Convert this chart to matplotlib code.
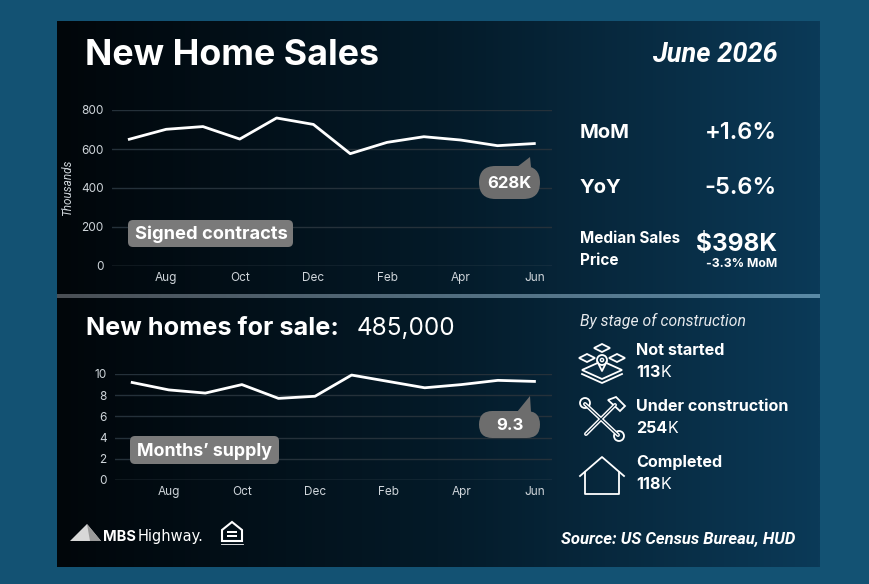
import numpy as np
import matplotlib
matplotlib.use("Agg")
import matplotlib.pyplot as plt
from matplotlib.patches import FancyBboxPatch, Polygon, Circle, Rectangle
from matplotlib.colors import LinearSegmentedColormap

# ---------------- data ----------------
months = ["Jul", "Aug", "Sep", "Oct", "Nov", "Dec", "Jan", "Feb", "Mar", "Apr", "May", "Jun"]
tick_months = ["Aug", "Oct", "Dec", "Feb", "Apr", "Jun"]
signed_contracts = [650, 701, 715, 651, 759, 726, 576, 634, 663, 646, 617, 628]   # thousands
months_supply = [9.2, 8.5, 8.2, 9.0, 7.7, 7.9, 9.9, 9.3, 8.7, 9.0, 9.4, 9.3]
sales_yticks = [0, 200, 400, 600, 800]
supply_yticks = [0, 2, 4, 6, 8, 10]
mom_change = "+1.6%"
yoy_change = "-5.6%"
median_price = "$398K"
median_price_mom = "-3.3% MoM"
homes_for_sale = "485,000"
stage_labels = ["Not started", "Under construction", "Completed"]
stage_values = [113, 254, 118]

W, H = 870, 584
plt.rcParams['font.family'] = ['Inter', 'DejaVu Sans']
fig = plt.figure(figsize=(W / 100, H / 100), dpi=100, facecolor="#135273")

def fr(x0, y0, x1, y1):
    return [x0 / W, 1 - y1 / H, (x1 - x0) / W, (y1 - y0) / H]

# background panel
bg = fig.add_axes([0, 0, 1, 1], zorder=0)
bg.set_xlim(0, W); bg.set_ylim(H, 0); bg.axis("off")
cmap = LinearSegmentedColormap.from_list("g", ["#01060a", "#041a28", "#0b3a58"])
grad = np.tile(np.linspace(0, 1, 256), (2, 1))
bg.imshow(grad, cmap=cmap, extent=(57, 820, 567, 21), aspect="auto", zorder=0)
# divider line
dcmap = LinearSegmentedColormap.from_list("d", ["#4a4f55", "#5b8aa6"])
bg.imshow(grad, cmap=dcmap, extent=(57, 820, 298, 294), aspect="auto", zorder=1)
bg.set_xlim(0, W); bg.set_ylim(H, 0)

tick_col = "#cfd5da"
grid_col = "#25313a"

def style_chart(ax, yticks, ylabels):
    ax.set_facecolor("none")
    for s in ax.spines.values():
        s.set_visible(False)
    ax.set_yticks(yticks)
    ax.set_yticklabels(ylabels)
    ax.tick_params(axis="both", length=0, colors=tick_col, labelsize=8.5)
    ax.tick_params(axis="y", pad=6)
    ax.tick_params(axis="x", pad=4)
    ax.set_xticks([months.index(m) for m in tick_months])
    ax.set_xticklabels(tick_months)
    for i, t in enumerate(yticks):
        ax.axhline(t, color="#4a565f" if i == 0 else grid_col, lw=1, zorder=0)
    ax.set_xlim(-0.47, len(months) - 0.52)

# top chart
ax1 = fig.add_axes(fr(112, 110, 552, 266), zorder=1)
ax1.plot(range(len(months)), signed_contracts, color="white", lw=2, clip_on=False, zorder=3)
ax1.set_ylim(0, 800)
style_chart(ax1, sales_yticks, [str(v) for v in sales_yticks])
ax1.set_ylabel("Thousands", color=tick_col, fontsize=8.5, style="italic",
               family=["Roboto", "DejaVu Sans"], labelpad=5)

# bottom chart
ax2 = fig.add_axes(fr(115, 374, 552, 480), zorder=1)
ax2.plot(range(len(months)), months_supply, color="white", lw=2, clip_on=False, zorder=3)
ax2.set_ylim(0, 10)
style_chart(ax2, supply_yticks, [str(v) for v in supply_yticks])

# foreground overlay
fg = fig.add_axes([0, 0, 1, 1], zorder=3)
fg.set_xlim(0, W); fg.set_ylim(H, 0); fg.axis("off"); fg.patch.set_alpha(0)

def T(x, y, s, size, ha="left", weight="normal", style="normal", color="white", va="baseline", fam=None):
    kw = {}
    if fam:
        kw["family"] = fam
    return fg.text(x, y, s, fontsize=size, ha=ha, va=va, fontweight=weight, style=style, color=color, **kw)

ital = ["Roboto", "DejaVu Sans"]
# header
T(85, 65, "New Home Sales", 25.8, weight="bold")
T(778, 62, "June 2026", 19.5, ha="right", weight="bold", style="italic", fam=ital)

# right stats
T(580, 138, "MoM", 14.5, weight="bold")
T(777, 139, mom_change, 17, ha="right", weight="semibold")
T(580, 193, "YoY", 14.5, weight="bold")
T(777, 194, yoy_change, 17, ha="right", weight="semibold")
T(580, 243, "Median Sales", 11, weight="bold")
T(580, 265, "Price", 11, weight="bold")
T(777, 251, median_price, 17.6, ha="right", weight="bold")
T(777, 267, median_price_mom, 8.8, ha="right", weight="bold")

# label boxes
def label_box(x0, y0, x1, y1, text, size):
    fg.add_patch(FancyBboxPatch((x0 + 5, y0 + 5), x1 - x0 - 10, y1 - y0 - 10,
                                boxstyle="round,pad=5", fc="#7a7a7a", ec="none"))
    T(x0 + 7, (y0 + y1) / 2 + 1, text, size, weight="bold", va="center")

label_box(128, 220, 293, 247, "Signed contracts", 13.2)
label_box(130, 436, 279, 464, "Months\u2019 supply", 12.8)

def bubble(x0, y0, x1, y1, apex, text):
    r = (y1 - y0) / 2
    fg.add_patch(FancyBboxPatch((x0 + r, y0 + r - 0.01), x1 - x0 - 2 * r, 0.02,
                                boxstyle="round,pad=%f" % r, fc="#6d6d6d", ec="none"))
    fg.add_patch(Polygon([(apex[0] - 13, y0 + 1), apex, (apex[0] + 1, y0 + 1)],
                         closed=True, fc="#6d6d6d", ec="none"))
    T((x0 + x1) / 2, (y0 + y1) / 2 + 1, text, 12, ha="center", va="center", weight="bold")

bubble(479, 166, 540, 199, (530, 157), f"{signed_contracts[-1]}K")
bubble(479, 411, 540, 438, (530, 396), f"{months_supply[-1]}")

# bottom section text
T(86, 335, "New homes for sale:", 18.2, weight="bold")
T(357, 335, homes_for_sale, 17.5)
T(580, 326, "By stage of construction", 11.3, style="italic", color="#e6e9ec", fam=ital)

ys = [355, 411, 467]
for lab, val, yb in zip(stage_labels, stage_values, ys):
    T(636, yb, lab, 11.6, weight="bold")
    t = T(636, yb + 22, f"{val}", 11.6, weight="bold")
    fg.annotate("K", xycoords=t, xy=(1, 0), va="bottom", fontsize=11.6, color="white",
                xytext=(0.3, 0), textcoords="offset points")

lw = 1.3
# icon: completed (house)
fg.plot([580, 602, 624], [476, 457, 476], color="white", lw=lw)
fg.plot([585, 585, 619, 619], [472, 494, 494, 472], color="white", lw=lw)

# icon: under construction (crossed tools)
fg.plot([585, 618], [404, 435], color="white", lw=lw * 2.2, solid_capstyle="round")
fg.plot([586, 615], [434, 405], color="white", lw=lw * 2.2, solid_capstyle="round")
fg.plot([585, 618], [404, 435], color="#08263a", lw=lw * 0.6, solid_capstyle="round")
fg.plot([586, 615], [434, 405], color="#08263a", lw=lw * 0.6, solid_capstyle="round")
fg.add_patch(Polygon([(608, 400), (616, 397), (625, 406), (620, 411)], closed=True,
                     fc="none", ec="white", lw=lw))
fg.add_patch(Circle((585, 403), 5, fc="none", ec="white", lw=lw))
fg.add_patch(Circle((619, 436), 5, fc="none", ec="white", lw=lw))

# icon: not started (tiles + pin)
def diamond(cx, cy, w, h):
    return Polygon([(cx - w, cy), (cx, cy - h), (cx + w, cy), (cx, cy + h)], closed=True,
                   fc="#0a2c42", ec="white", lw=lw)
fg.add_patch(diamond(602, 370, 20, 9))
fg.plot([582, 602, 622], [374, 383, 374], color="white", lw=lw)
fg.add_patch(diamond(602, 348, 8, 4))
fg.add_patch(diamond(587, 358, 8, 4))
fg.add_patch(diamond(617, 358, 8, 4))
fg.add_patch(Circle((602, 360), 5, fc="#0a2c42", ec="white", lw=lw))
fg.plot([597.5, 602, 606.5], [362, 371, 362], color="white", lw=lw)
fg.add_patch(Circle((602, 360), 1.6, fc="none", ec="white", lw=1))

# footer
fg.add_patch(Polygon([(70, 541), (87, 524), (101, 541)], closed=True, fc="#d8d8d8", ec="none"))
fg.add_patch(Polygon([(87, 524), (101, 541), (90, 541)], closed=True, fc="#9a9a9a", ec="none"))
t = T(103, 541, "MBS", 10.5, weight="bold")
fg.annotate("Highway.", xycoords=t, xy=(1, 0), va="bottom", fontsize=10.5, color="white",
            xytext=(1, 0), textcoords="offset points", family=["Liberation Sans Narrow", "DejaVu Sans"])
fg.add_patch(Polygon([(222, 530), (232, 522), (242, 530), (242, 541), (222, 541)], closed=True,
                     fc="none", ec="white", lw=1.5))
fg.add_patch(Rectangle((227, 531), 10, 2, fc="white", ec="none"))
fg.add_patch(Rectangle((227, 535), 10, 2, fc="white", ec="none"))
fg.plot([221, 243], [544, 544], color="white", lw=0.6)
T(795, 543, "Source: US Census Bureau, HUD", 12, ha="right", weight="bold", style="italic", fam=ital)

fig.savefig("out.png", dpi=100, facecolor=fig.get_facecolor())
